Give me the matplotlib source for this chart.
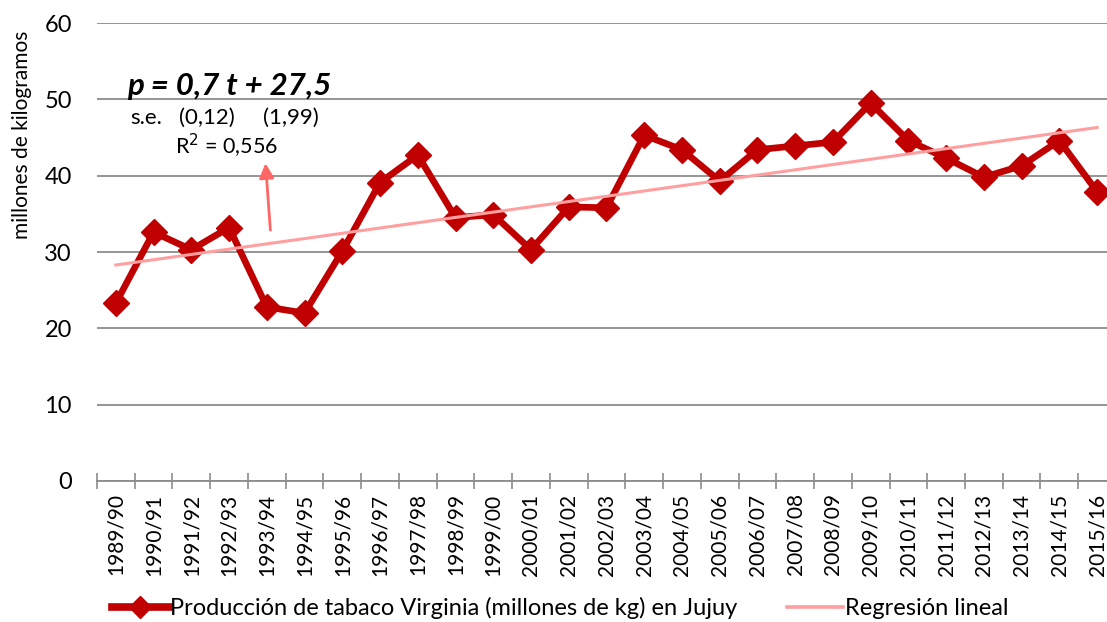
import numpy as np
import matplotlib.pyplot as plt
from matplotlib.lines import Line2D

seasons = ['1989/90', '1990/91', '1991/92', '1992/93', '1993/94', '1994/95', '1995/96',
           '1996/97', '1997/98', '1998/99', '1999/00', '2000/01', '2001/02', '2002/03',
           '2003/04', '2004/05', '2005/06', '2006/07', '2007/08', '2008/09', '2009/10',
           '2010/11', '2011/12', '2012/13', '2013/14', '2014/15', '2015/16']
produccion = [23.3, 32.6, 30.3, 33.2, 22.8, 22.0, 30.1, 39.1, 42.7, 34.5, 34.9, 30.3,
              35.9, 35.8, 45.3, 43.4, 39.3, 43.4, 43.9, 44.4, 49.5, 44.6, 42.3, 39.8,
              41.3, 44.6, 37.9]

plt.rcParams['font.family'] = ['Lato', 'DejaVu Sans']

x = np.arange(len(seasons))
t = x + 1
# linear trend fitted on the series
slope, intercept = np.polyfit(t, produccion, 1)
tendencia = slope * t + intercept

fig = plt.figure(figsize=(11.07, 6.22), dpi=100)
ax = fig.add_axes([0.0876, 0.2267, 0.9205, 0.7363])

ax.plot(x, produccion, color='#C00000', lw=4.8, marker='D', markersize=13.5, zorder=3)
ax.plot(x, tendencia, color='#FF9F9F', lw=2.2, zorder=4)

ax.set_xlim(-0.5, len(seasons) - 0.5)
ax.set_ylim(0, 60)
ax.set_yticks(range(0, 61, 10))
ax.grid(axis='y', color='#8C8C8C', lw=1.3)
ax.set_axisbelow(True)
for s in ['top', 'right', 'left']:
    ax.spines[s].set_visible(False)
ax.spines['bottom'].set_color('#8C8C8C')
ax.spines['bottom'].set_linewidth(1.3)

ax.set_xticks(x)
ax.set_xticklabels(seasons, rotation=90, fontsize=15)
ax.tick_params(axis='x', length=0, pad=9)
ax.set_xticks(np.arange(-0.5, len(seasons), 1), minor=True)
ax.tick_params(axis='x', which='minor', direction='inout', length=11, color='#8C8C8C', width=1.2)
ax.tick_params(axis='y', length=0, labelsize=17, pad=18)
ax.set_ylabel('millones de kilogramos', fontsize=15)
ax.yaxis.set_label_coords(-0.064, 0.755)

ax.text(3.0, 51.8, 'p = 0,7 t + 27,5', fontsize=22.5, fontweight='bold', style='italic',
        ha='center', va='center')
ax.text(0.38, 47.6, 's.e.', fontsize=16, ha='left', va='center')
ax.text(2.41, 47.6, '(0,12)', fontsize=16, ha='center', va='center')
ax.text(4.64, 47.6, '(1,99)', fontsize=16, ha='center', va='center')
ax.text(1.58, 43.9, 'R$^2$ = 0,556', fontsize=15.5, ha='left', va='center')
ax.annotate('', xy=(3.96, 42.0), xytext=(4.1, 32.5),
            arrowprops=dict(arrowstyle='-|>', color='#FF6666', lw=2, mutation_scale=22))

handles = [Line2D([], [], color='#C00000', lw=5.5, marker='D', markersize=11),
           Line2D([], [], color='#FF9F9F', lw=2.6)]
fig.legend(handles, ['Producción de tabaco Virginia (millones de kg) en Jujuy', 'Regresión lineal'],
           loc='lower center', bbox_to_anchor=(0.506, -0.03), ncol=2, frameon=False,
           fontsize=17, handlelength=2.4, handletextpad=0.05, columnspacing=2.1)

fig.savefig('out.png', dpi=100)
